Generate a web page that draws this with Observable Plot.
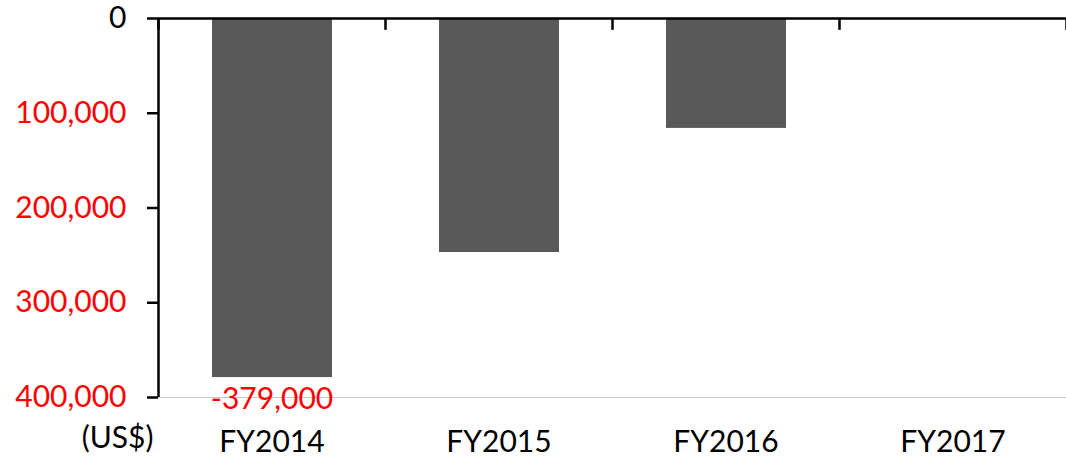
<!DOCTYPE html>
<html>
<head>
<meta charset="utf-8">
<script src="https://cdn.jsdelivr.net/npm/d3@7"></script>
<script src="https://cdn.jsdelivr.net/npm/@observablehq/plot@0.6"></script>
<style>
  html, body { margin: 0; padding: 0; background: #fff; }
  #chart svg { display: block; }
</style>
</head>
<body>
<div id="chart"></div>
<script>
const categories = ["FY2014", "FY2015", "FY2016", "FY2017"];
const values = [-379000, -247000, -116000, 0];
const valueLabels = ["-379,000", "", "", ""];
const yTicks = [0, -100000, -200000, -300000, -400000];
const unitLabel = "(US$)";

const data = categories.map((c, i) => ({cat: c, i, value: values[i], label: valueLabels[i]}));
const fmt = d => d3.format(",")(Math.abs(d));
const font = "Lato, 'Open Sans', sans-serif";

const chart = Plot.plot({
  width: 1066,
  height: 463,
  marginLeft: 158,
  marginRight: 0,
  marginTop: 18,
  marginBottom: 66,
  style: {fontFamily: font, background: "#fff", overflow: "visible"},
  x: {domain: [0, categories.length], axis: null},
  y: {domain: [-400000, 0], axis: null},
  marks: [
    Plot.ruleY([-400000], {stroke: "#c8c8c8", strokeWidth: 1}),
    Plot.rectY(data, {x1: d => d.i, x2: d => d.i + 1, y1: 0, y2: "value", fill: "#595959", insetLeft: 54, insetRight: 53}),
    Plot.ruleY([0], {stroke: "#000", strokeWidth: 2.5}),
    Plot.ruleX(d3.range(categories.length + 1), {x: d => d, y1: 0, y2: -12500, stroke: "#000", strokeWidth: 2.5}),
    Plot.ruleX([0], {y1: 0, y2: -400000, stroke: "#000", strokeWidth: 2.5}),
    Plot.axisY([0], {anchor: "left", label: null, tickSize: 11, tickPadding: 21, strokeWidth: 2.5, stroke: "#000", fill: "#000", fontSize: 30, tickFormat: fmt, fontFamily: font}),
    Plot.axisY(yTicks.slice(1), {anchor: "left", label: null, tickSize: 11, tickPadding: 21, strokeWidth: 2.5, stroke: "#000", fill: "#ff0000", fontSize: 30, tickFormat: fmt, fontFamily: font}),
    Plot.text(data.filter(d => d.label), {x: d => d.i + 0.5, y: "value", text: "label", dy: 22, fontSize: 30, fill: "#ff0000", fontFamily: font}),
    Plot.text(data, {x: d => d.i + 0.5, text: "cat", frameAnchor: "bottom", dy: 54, fontSize: 30, fill: "#000", fontFamily: font}),
    Plot.text([unitLabel], {x: 0, text: d => d, frameAnchor: "bottom", dy: 50, dx: -5, textAnchor: "end", fontSize: 30, fill: "#000", fontFamily: font})
  ]
});
document.getElementById("chart").appendChild(chart);
</script>
</body>
</html>
